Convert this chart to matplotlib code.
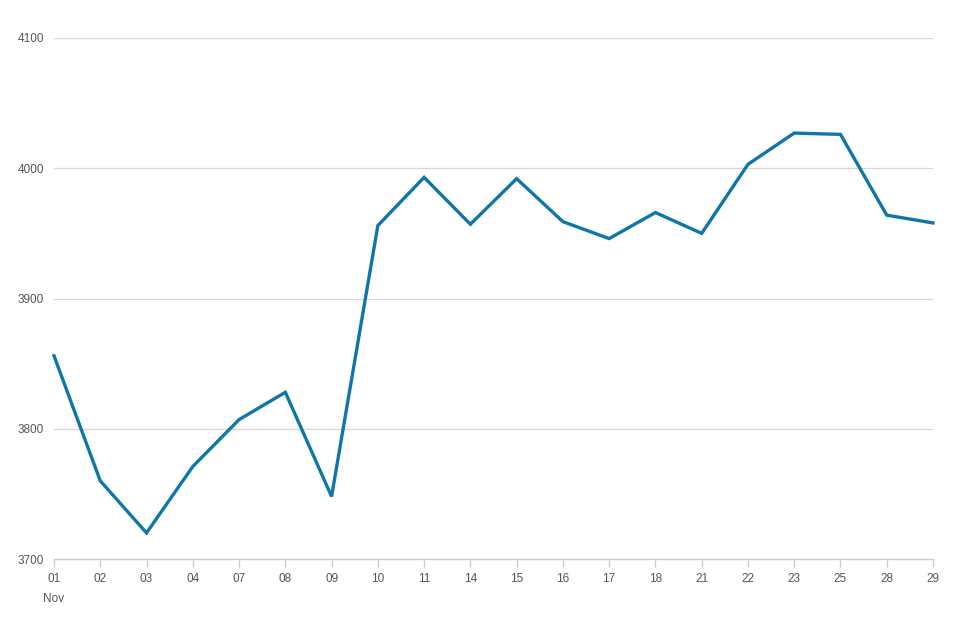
import matplotlib
matplotlib.use("Agg")
import matplotlib.pyplot as plt

dates = ["01", "02", "03", "04", "07", "08", "09", "10", "11", "14",
         "15", "16", "17", "18", "21", "22", "23", "25", "28", "29"]
values = [3856, 3760, 3720, 3771, 3807, 3828, 3748, 3956, 3993, 3957,
          3992, 3959, 3946, 3966, 3950, 4003, 4027, 4026, 3964, 3958]
y_ticks = [3700, 3800, 3900, 4000, 4100]
month_label = "Nov"

plt.rcParams['font.family'] = ['Liberation Sans', 'DejaVu Sans']
W, H = 968, 629
fig = plt.figure(figsize=(W / 100, H / 100), dpi=100)
ax = fig.add_axes([54 / W, (H - 559) / H, (933 - 54) / W, (559 - 38) / H])

x = list(range(len(dates)))
ax.plot(x, values, color="#0f76aa", linewidth=2.4, solid_joinstyle="miter", zorder=3, clip_on=False)

ax.set_xlim(0, len(dates) - 1)
ax.set_ylim(3700, 4100)
ax.set_yticks(y_ticks)
ax.set_yticklabels([str(v) for v in y_ticks])
ax.set_xticks(x)
labels = [d for d in dates]
labels[0] = dates[0] + "\n" + month_label
ax.set_xticklabels(labels)

for yv in y_ticks[1:]:
    ax.axhline(yv, color="#dcd2d7", linewidth=0.9, zorder=1)

for s in ["top", "right", "left"]:
    ax.spines[s].set_visible(False)
ax.spines["bottom"].set_color("#cccccc")
ax.spines["bottom"].set_linewidth(1)

ax.tick_params(axis="y", length=0, pad=7, labelsize=8.5, labelcolor="#555555")
ax.tick_params(axis="x", length=6, width=1, color="#cccccc", pad=4, labelsize=8.5, labelcolor="#555555")
for lab in ax.get_xticklabels():
    lab.set_linespacing(1.9)

fig.savefig("out.png", dpi=100, facecolor="white")
